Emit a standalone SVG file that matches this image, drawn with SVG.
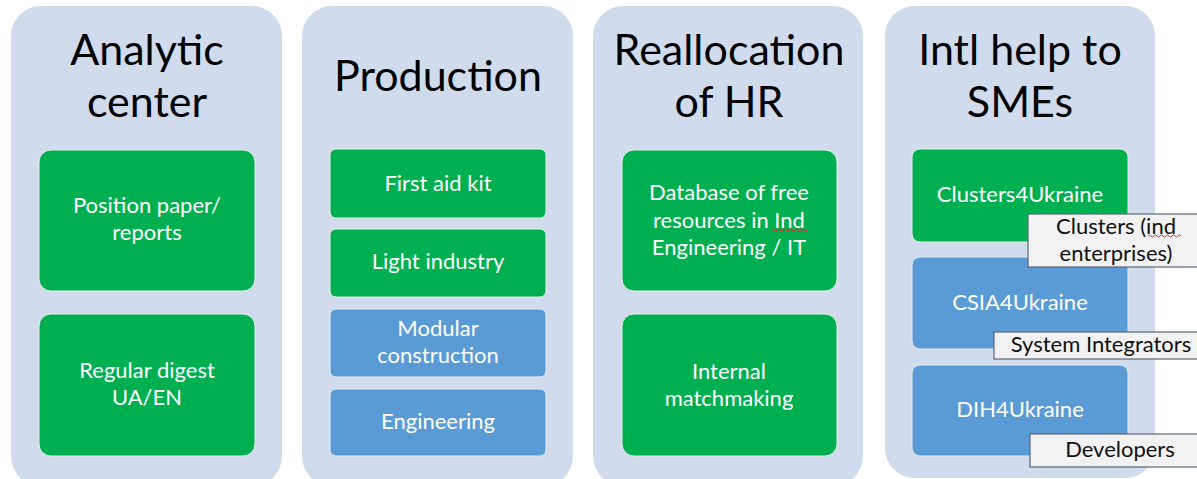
<svg xmlns="http://www.w3.org/2000/svg" width="1197" height="479" viewBox="0 0 1197 479">
<style>
.panel{fill:#d0dcee}
.g{fill:#00b050;stroke:#e6f0e8;stroke-width:1}
.b{fill:#5b9bd5;stroke:#e3ecf6;stroke-width:1}
.title{font-family:Lato,"Open Sans",sans-serif;font-size:43px;fill:#000;text-anchor:middle}
.t{font-family:Lato,"Open Sans",sans-serif;font-size:22px;fill:#fff;text-anchor:middle}
.call{fill:#f2f2f2;stroke:#5b6677;stroke-width:1.2}
.ct{font-family:Lato,"Open Sans",sans-serif;font-size:22px;fill:#111;text-anchor:middle}
.wave{fill:none;stroke:#e03030;stroke-width:1}
</style>
<rect width="1197" height="479" fill="#fff"/>
<g id="col-analytic">
<rect class="panel" x="11" y="6" width="271" height="480" rx="30"/>
<text class="title" x="147" y="65">Analytic</text>
<text class="title" x="147" y="117">center</text>
</g>
<g id="position-paper">
<rect class="g" x="39" y="150" width="216" height="141" rx="12"/>
<text class="t" x="147" y="213">Position paper/</text>
<text class="t" x="147" y="240">reports</text>
</g>
<g id="regular-digest">
<rect class="g" x="39" y="314" width="216" height="142" rx="12"/>
<text class="t" x="147" y="378">Regular digest</text>
<text class="t" x="147" y="405">UA/EN</text>
</g>
<g id="col-production">
<rect class="panel" x="302" y="6" width="271" height="480" rx="30"/>
<text class="title" x="438" y="91">Production</text>
</g>
<g id="first-aid">
<rect class="g" x="330" y="149" width="216" height="69" rx="6"/>
<text class="t" x="438" y="191">First aid kit</text>
</g>
<g id="light-industry">
<rect class="g" x="330" y="229" width="216" height="68" rx="6"/>
<text class="t" x="438" y="269">Light industry</text>
</g>
<g id="modular">
<rect class="b" x="330" y="309" width="216" height="68" rx="6"/>
<text class="t" x="438" y="336">Modular</text>
<text class="t" x="438" y="363">construction</text>
</g>
<g id="engineering">
<rect class="b" x="330" y="389" width="216" height="67" rx="6"/>
<text class="t" x="438" y="429">Engineering</text>
</g>
<g id="col-hr">
<rect class="panel" x="593" y="6" width="270" height="480" rx="30"/>
<text class="title" x="729" y="65">Reallocation</text>
<text class="title" x="729" y="117">of HR</text>
</g>
<g id="database">
<rect class="g" x="622" y="150" width="215" height="141" rx="12"/>
<text class="t" x="729" y="200">Database of free</text>
<text class="t" x="729" y="228">resources in Ind</text>
<text class="t" x="729" y="255">Engineering / IT</text>
<path class="wave" d="M771 230 q1.5 -2 3 0 t3 0 t3 0 t3 0 t3 0 t3 0 t3 0 t3 0 t3 0 t3 0 t3 0 t3 0"/>
</g>
<g id="matchmaking">
<rect class="g" x="622" y="314" width="215" height="142" rx="12"/>
<text class="t" x="729" y="379">Internal</text>
<text class="t" x="729" y="406">matchmaking</text>
</g>
<g id="col-smes">
<rect class="panel" x="885" y="6" width="270" height="472" rx="30"/>
<text class="title" x="1020" y="65">Intl help to</text>
<text class="title" x="1020" y="117">SMEs</text>
</g>
<g id="clusters4ukraine">
<rect class="g" x="912" y="149" width="216" height="93" rx="8"/>
<text class="t" x="1020" y="202">Clusters4Ukraine</text>
</g>
<g id="csia4ukraine">
<rect class="b" x="912" y="257" width="216" height="92" rx="8"/>
<text class="t" x="1020" y="310">CSIA4Ukraine</text>
</g>
<g id="dih4ukraine">
<rect class="b" x="912" y="365" width="216" height="91" rx="8"/>
<text class="t" x="1020" y="417">DIH4Ukraine</text>
</g>
<g id="label-clusters">
<rect class="call" x="1028" y="214" width="175" height="53"/>
<text class="ct" x="1116" y="234">Clusters (ind</text>
<text class="ct" x="1116" y="261">enterprises)</text>
<path class="wave" d="M1148 236 q1.5 -2 3 0 t3 0 t3 0 t3 0 t3 0 t3 0 t3 0 t3 0 t3 0 t3 0 t3 0"/>
</g>
<g id="label-integrators">
<rect class="call" x="994" y="332" width="210" height="27"/>
<text class="ct" x="1101" y="352">System Integrators</text>
</g>
<g id="label-developers">
<rect class="call" x="1030" y="434" width="175" height="33"/>
<text class="ct" x="1120" y="457">Developers</text>
</g>
<g id="connectors"/>
</svg>
